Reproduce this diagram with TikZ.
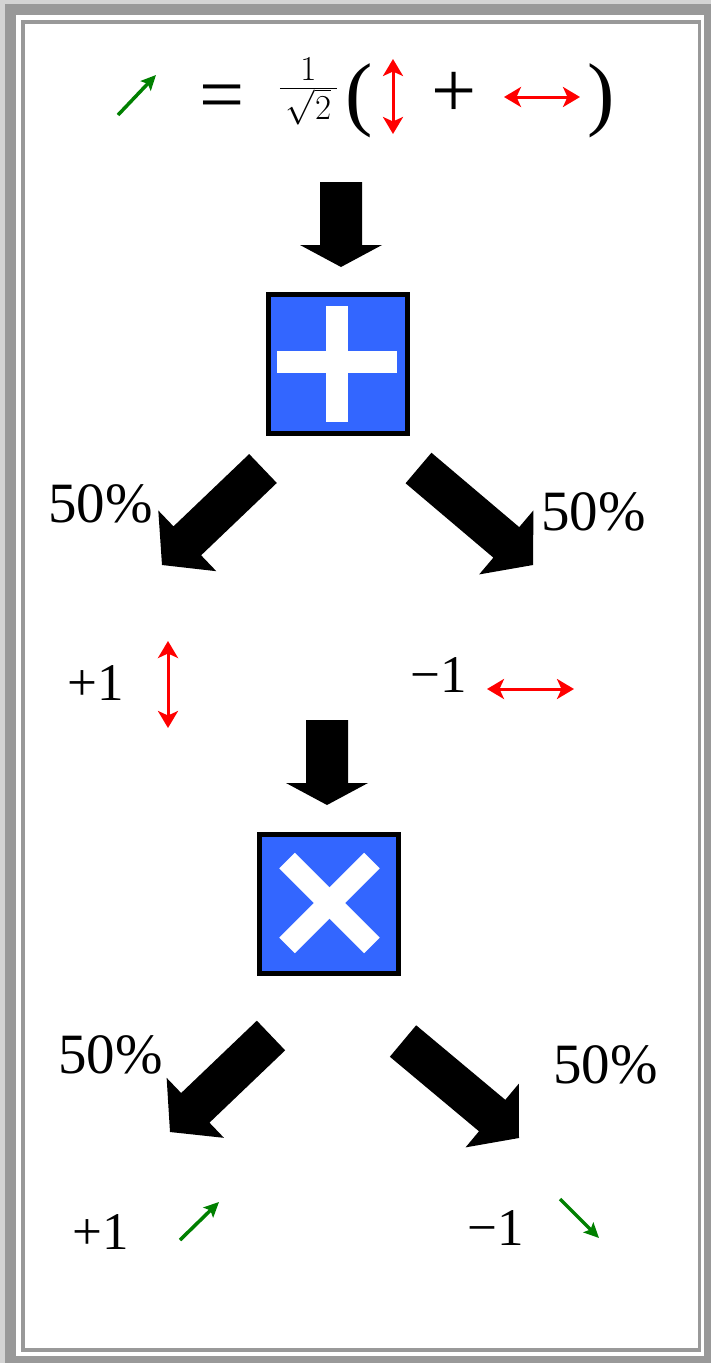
\RequirePackage{fix-cm}
\documentclass[tikz,border=0pt]{standalone}
\usepackage{fontspec}
\setmainfont{Liberation Serif}
\usetikzlibrary{arrows.meta,calc}
\definecolor{framegray}{HTML}{999999}
\definecolor{framelight}{HTML}{D4D4D4}
\definecolor{opblue}{HTML}{3366FF}
\definecolor{qgreen}{HTML}{008000}
\tikzset{
  opbox/.style={draw=black, line width=5pt, fill=opblue, minimum size=139pt, inner sep=0pt},
  opmark/.style={draw=white, line width=22pt},
  bigarrow/.style={fill=black},
  pol/.style={draw=red, line width=3pt, {Stealth[length=17pt,width=20pt,inset=4.5pt]}-{Stealth[length=17pt,width=20pt,inset=4.5pt]}},
  diag/.style={draw=qgreen, line width=3.5pt, -{Stealth[length=15pt,width=14pt,inset=3pt]}},
  pct/.style={inner sep=0pt, anchor=base west, font=\fontsize{57}{60}\selectfont},
  eig/.style={inner sep=0pt, anchor=base west, font=\fontsize{53}{56}\selectfont},
  eqsym/.style={inner sep=0pt, anchor=base west, font=\fontsize{80}{90}\selectfont},
  paren/.style={inner sep=0pt, anchor=base west, font=\fontsize{82}{90}\selectfont},
}
% #1 tail, #2 tip, #3 shaft half width, #4 head half width, #5 head length
\newcommand{\blockarrow}[5]{%
  \coordinate (#1-#2-h) at ($(#2)!#5!(#1)$);
  \fill[bigarrow] ($(#1)!#3!90:(#2)$) -- ($(#1-#2-h)!#3!90:(#2)$) -- ($(#1-#2-h)!#4!90:(#2)$)
    -- (#2) -- ($(#1-#2-h)!#4!-90:(#2)$) -- ($(#1-#2-h)!#3!-90:(#2)$) -- ($(#1)!#3!-90:(#2)$) -- cycle;
}
\begin{document}
\begin{tikzpicture}[x=1pt,y=-1pt]
\useasboundingbox (0,0) rectangle (711,1363);
% frame
\fill[framelight] (0,0) rectangle (711,1363);
\fill[framegray] (5,4) rectangle (711,1363);
\fill[white] (16,15) rectangle (704,1356);
\fill[framegray] (21,20) rectangle (701,1352);
\fill[white] (25,24) rectangle (698,1348);

% equation
\coordinate (g0a) at (118,115); \coordinate (g0b) at (156,75);
\draw[diag] (g0a) -- (g0b);
\node[eqsym] (eq) at (199,121.7) {=};
\node[inner sep=0pt, anchor=base, font=\fontsize{50}{56}\selectfont] (frac) at (308.5,100.5) {$\frac{1}{\hskip6pt\sqrt{2}\hskip6pt}$};
\node[paren] (lp) at (345,120.5) {(};
\coordinate (r0a) at (393,59); \coordinate (r0b) at (393,134);
\draw[pol] (r0a) -- (r0b);
\node[eqsym] (pl) at (431.6,117) {+};
\coordinate (r1a) at (504,97); \coordinate (r1b) at (580,97);
\draw[pol] (r1a) -- (r1b);
\node[paren] (rp) at (587.6,120.5) {)};

% first stage
\coordinate (t1) at (341,182); \coordinate (h1) at (341,267);
\blockarrow{t1}{h1}{21pt}{41pt}{22pt}
\node[opbox] (had) at (338,363.5) {};
\draw[opmark] ($(had)+(-1.5,-57.5)$) -- ($(had)+(-1.5,58.5)$);
\draw[opmark] ($(had)+(-61,-2)$) -- ($(had)+(59,-2)$);

\coordinate (t2) at (263,468.5); \coordinate (h2) at (162,565);
\blockarrow{t2}{h2}{20pt}{42pt}{35pt}
\coordinate (t3) at (418.5,468); \coordinate (h3) at (533,565);
\blockarrow{t3}{h3}{20pt}{42pt}{35pt}
\node[pct] (p1) at (48,522) {50\%};
\node[pct] (p2) at (541,530) {50\%};

\node[eig] (e1) at (67,700) {+1};
\coordinate (r2a) at (168,641); \coordinate (r2b) at (168,728);
\draw[pol] (r2a) -- (r2b);
\node[eig] (e2) at (410,692) {−1};
\coordinate (r3a) at (487,689); \coordinate (r3b) at (574,689);
\draw[pol] (r3a) -- (r3b);

% second stage
\coordinate (t4) at (327,720); \coordinate (h4) at (327,805);
\blockarrow{t4}{h4}{21pt}{41pt}{22pt}
\node[opbox] (diagbox) at (328.5,903.5) {};
\draw[opmark] ($(diagbox)+(1-42.4,-0.5-42.4)$) -- ($(diagbox)+(1+42.4,-0.5+42.4)$);
\draw[opmark] ($(diagbox)+(1-42.4,-0.5+42.4)$) -- ($(diagbox)+(1+42.4,-0.5-42.4)$);

\coordinate (t5) at (271,1035.5); \coordinate (h5) at (170,1132);
\blockarrow{t5}{h5}{20.5pt}{41.5pt}{35pt}
\coordinate (t6) at (403,1041); \coordinate (h6) at (519,1138);
\blockarrow{t6}{h6}{20.5pt}{41.5pt}{35pt}
\node[pct] (p3) at (58,1073) {50\%};
\node[pct] (p4) at (553,1083) {50\%};

\node[eig] (e3) at (72,1249) {+1};
\coordinate (g1a) at (180,1240); \coordinate (g1b) at (219,1202);
\draw[diag] (g1a) -- (g1b);
\node[eig] (e4) at (467,1245) {−1};
\coordinate (g2a) at (560,1199); \coordinate (g2b) at (599,1238);
\draw[diag] (g2a) -- (g2b);
\end{tikzpicture}
\end{document}
